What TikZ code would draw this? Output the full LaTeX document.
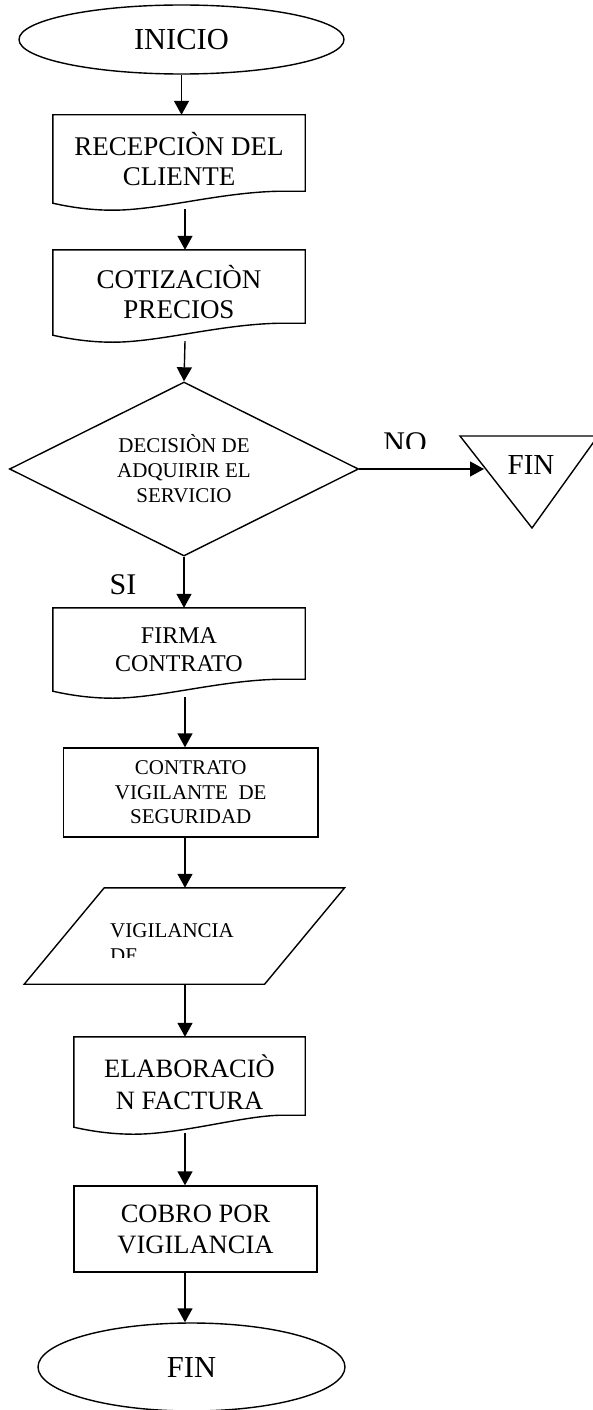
\documentclass[tikz,border=0pt]{standalone}
\usepackage{fontspec}
\setmainfont{Liberation Serif}
\usetikzlibrary{shapes.geometric,arrows.meta,calc}
\tikzset{
  shp/.style={draw=black,line width=1.4pt},
  arr/.style={draw=black,line width=1.4pt,-{Triangle[length=14pt,width=15pt]}},
  termnode/.style={ellipse,draw=black,line width=1.4pt,inner sep=0pt},
  docnode/.style={rectangle,draw=none,inner sep=0pt,align=center},
  procnode/.style={rectangle,draw=black,line width=1.4pt,inner sep=0pt,align=center},
  lbl/.style={inner sep=0pt}
}
\newcommand{\docout}[1]{%
  \draw[shp] (#1.north west) -- (#1.north east) -- ($(#1.south east)+(0,-12)$)
    -- ($(#1.south east)+(-25,-12)$)
    .. controls ($(#1.south west)+(167,-11)$) and ($(#1.south west)+(107,7)$) .. ($(#1.south west)+(60,7)$)
    .. controls ($(#1.south west)+(42,7)$) and ($(#1.south west)+(22,5)$) .. (#1.south west) -- cycle;}
\begin{document}
\begin{tikzpicture}[x=1pt,y=-1pt]
\useasboundingbox (0,0) rectangle (593,1410);
\coordinate (spine) at (185,0);

% INICIO
\node[termnode,minimum width=325pt,minimum height=69pt,font=\fontsize{30.5}{34}\selectfont] (ini) at (181.5,39.5) {INICIO};

% RECEPCION
\node[docnode,minimum width=252pt,minimum height=88pt,font=\fontsize{27}{30}\selectfont] (b1) at (179,159) {RECEPCIÒN DEL\\CLIENTE};
\docout{b1}

% COTIZACION
\node[docnode,minimum width=252pt,minimum height=85pt,font=\fontsize{27}{30}\selectfont] (b2) at (179,292.5) {COTIZACIÒN\\PRECIOS};
\docout{b2}

% Decision
\node[diamond,draw=black,line width=1.4pt,inner sep=0pt,aspect=2,minimum width=349pt,minimum height=174pt,align=center,font=\fontsize{21}{25}\selectfont] (dec) at (184,469) {DECISIÒN DE\\ADQUIRIR EL\\SERVICIO};

% FIN triangle
\draw[shp] (460,436) -- (598,436) -- (532,528) -- cycle;
\node[lbl,font=\fontsize{29}{32}\selectfont] (fin1) at (531,465) {FIN};
\coordinate (finin) at (484,469);

% FIRMA CONTRATO
\node[docnode,minimum width=252pt,minimum height=83pt,font=\fontsize{24}{28}\selectfont] (b3) at (179,649.5) {FIRMA\\CONTRATO};
\docout{b3}

% CONTRATO VIGILANTE
\node[procnode,minimum width=254.5pt,minimum height=89pt,font=\fontsize{21}{24.5}\selectfont] (b4) at (190.75,792.5) {CONTRATO\\VIGILANTE\ \ DE\\SEGURIDAD};

% Parallelogram
\node[rectangle,draw=none,inner sep=0pt,minimum width=240pt,minimum height=96pt] (par) at (184.4,936) {};
\draw[shp] ($(par.north west)+(40,0)$) -- ($(par.north east)+(40,0)$) -- ($(par.south east)+(-40,0)$) -- ($(par.south west)+(-40,0)$) -- cycle;
\begin{scope}
  \clip (100,900) rectangle (300,957);
  \node[lbl,anchor=north west,align=left,font=\fontsize{21}{25}\selectfont] (partxt) at (110,923) {VIGILANCIA\\DE};
\end{scope}

% ELABORACION FACTURA
\node[docnode,minimum width=231pt,minimum height=90pt,font=\fontsize{26.5}{32}\selectfont] (b5) at (189.5,1082) {ELABORACIÒ\\N FACTURA};
\docout{b5}

% COBRO
\node[procnode,minimum width=243pt,minimum height=86pt,font=\fontsize{26.5}{31}\selectfont] (b6) at (195.5,1229) {COBRO POR\\VIGILANCIA};

% FIN ellipse
\node[termnode,minimum width=307pt,minimum height=88pt,font=\fontsize{30.5}{34}\selectfont] (fin2) at (191.5,1367) {FIN};

% Labels
\begin{scope}
  \clip (370,420) rectangle (450,448);
  \node[lbl,anchor=north,font=\fontsize{30}{34}\selectfont] (nolbl) at (405,432) {NO};
\end{scope}
\node[lbl,font=\fontsize{30}{34}\selectfont] (silbl) at (123,585) {SI};

% Connectors
\draw[arr] (ini.south) -- (ini.south |- b1.north);
\draw[arr] ($(b1.south -| spine)+(0,6)$) -- (b2.north -| spine);
\draw[arr] ($(b2.south -| spine)+(0,6)$) -- (dec.north);
\draw[arr] (dec.east) -- (finin);
\draw[arr] (dec.south) -- (dec.south |- b3.north);
\draw[arr] ($(b3.south -| spine)+(0,6)$) -- (b4.north -| spine);
\draw[arr] (b4.south -| spine) -- (par.north -| spine);
\draw[arr] (par.south -| spine) -- (b5.north -| spine);
\draw[arr] ($(b5.south -| spine)+(0,6)$) -- (b6.north -| spine);
\draw[arr] (b6.south -| spine) -- (fin2.north -| spine);
\end{tikzpicture}
\end{document}
